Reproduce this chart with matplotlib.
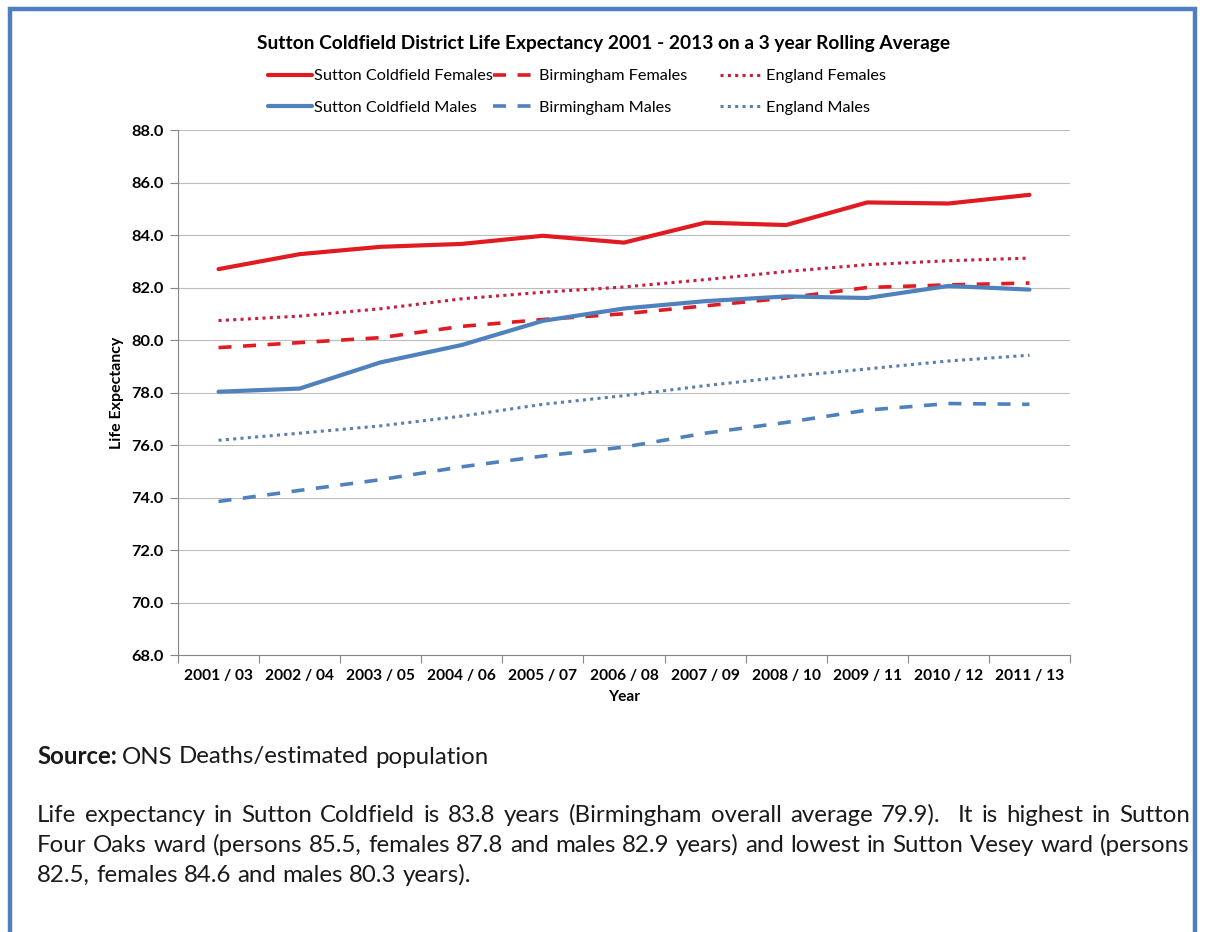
import matplotlib
matplotlib.use('Agg')
import matplotlib.pyplot as plt
from matplotlib.patches import Rectangle
from matplotlib.ticker import FixedLocator, MultipleLocator

W, H = 1206, 932
plt.rcParams['font.family'] = ['Lato', 'DejaVu Sans']

years = ['2001 / 03', '2002 / 04', '2003 / 05', '2004 / 06', '2005 / 07', '2006 / 08',
         '2007 / 09', '2008 / 10', '2009 / 11', '2010 / 12', '2011 / 13']

sc_females = [82.70, 83.27, 83.55, 83.66, 83.97, 83.71, 84.47, 84.38, 85.24, 85.20, 85.53]
bham_females = [79.71, 79.90, 80.09, 80.52, 80.78, 81.00, 81.30, 81.60, 82.00, 82.10, 82.17]
eng_females = [80.74, 80.91, 81.19, 81.57, 81.82, 82.02, 82.30, 82.61, 82.87, 83.02, 83.12]
sc_males = [78.03, 78.15, 79.15, 79.81, 80.73, 81.20, 81.48, 81.66, 81.60, 82.06, 81.92]
bham_males = [73.85, 74.27, 74.68, 75.17, 75.58, 75.92, 76.45, 76.86, 77.33, 77.58, 77.55]
eng_males = [76.18, 76.45, 76.73, 77.10, 77.55, 77.88, 78.26, 78.60, 78.90, 79.20, 79.42]

red = '#e01b22'
blue = '#4f81bd'

fig = plt.figure(figsize=(W / 100, H / 100), dpi=100)
ax = fig.add_axes((178 / W, 1 - 655 / H, 892 / W, 525 / H))

x = range(len(years))
l1, = ax.plot(x, sc_females, color=red, lw=3.0, solid_capstyle='round')
l2, = ax.plot(x, bham_females, color=red, lw=2.6, dashes=(3.6, 3.2))
l3, = ax.plot(x, eng_females, color='#c81e3c', lw=2.2, dashes=(1.0, 1.4))
l4, = ax.plot(x, sc_males, color=blue, lw=3.0, solid_capstyle='round')
l5, = ax.plot(x, bham_males, color=blue, lw=2.6, dashes=(3.6, 3.2))
l6, = ax.plot(x, eng_males, color='#5b7fac', lw=2.2, dashes=(1.0, 1.4))

ax.set_xlim(-0.5, len(years) - 0.5)
ax.set_ylim(68, 88)
ax.yaxis.set_major_locator(MultipleLocator(2))
ax.set_yticklabels(['%.1f' % v for v in ax.get_yticks()])
ax.set_xticks(list(x))
ax.set_xticklabels(years)
ax.xaxis.set_minor_locator(FixedLocator([i - 0.5 for i in range(len(years) + 1)]))
ax.tick_params(axis='x', which='major', length=0, pad=10)
ax.tick_params(axis='x', which='minor', length=6, color='#868686', width=0.8)
ax.tick_params(axis='y', length=6, color='#868686', width=0.8, pad=4.5)
for lab in ax.get_xticklabels():
    lab.set_fontweight('bold')
    lab.set_fontsize(11.2)
for lab in ax.get_yticklabels():
    lab.set_fontweight('bold')
    lab.set_fontsize(11.8)
ax.grid(axis='y', color='#bdbdbd', lw=0.8)
ax.set_axisbelow(True)
for s in ['top', 'right']:
    ax.spines[s].set_visible(False)
for s in ['left', 'bottom']:
    ax.spines[s].set_color('#868686')
    ax.spines[s].set_linewidth(0.8)

ax.set_xlabel('Year', fontweight='bold', fontsize=11.2, labelpad=5)
ax.set_ylabel('Life Expectancy', fontweight='bold', fontsize=11.5)
ax.yaxis.set_label_coords((124 - 178) / 892, 0.5)

fig.text(604 / W, 1 - 43 / H, 'Sutton Coldfield District Life Expectancy 2001 - 2013 on a 3 year Rolling Average',
         ha='center', va='center', fontweight='bold', fontsize=13.8)

# legend: three columns of two rows
cols = [((l1, 'Sutton Coldfield Females'), (l4, 'Sutton Coldfield Males'), 268),
        ((l2, 'Birmingham Females'), (l5, 'Birmingham Males'), 493),
        ((l3, 'England Females'), (l6, 'England Males'), 720)]
for a, b, xpos in cols:
    fig.legend([a[0], b[0]], [a[1], b[1]], loc='center left',
               bbox_to_anchor=(xpos / W, 1 - 92 / H), frameon=False,
               fontsize=11.7, handlelength=2.7, handletextpad=0.15,
               borderpad=0, borderaxespad=0, labelspacing=1.05)

# text under the chart
renderer = fig.canvas.get_renderer()


def put_words(words, x0, x1, y, justify, **kw):
    ts = [fig.text(0, 1 - y / H, w, va='center', ha='left', **kw) for w in words]
    widths = [t.get_window_extent(renderer).width for t in ts]
    if justify:
        gap = (x1 - x0 - sum(widths)) / (len(words) - 1)
    else:
        a = fig.text(0, 0, 'a a', **kw)
        b = fig.text(0, 0, 'aa', **kw)
        gap = a.get_window_extent(renderer).width - b.get_window_extent(renderer).width
        a.remove()
        b.remove()
    pos = x0
    for t, w in zip(ts, widths):
        t.set_x(pos / W)
        pos += w + gap
    return pos


body = dict(fontsize=17.3, color='#1a1a1a')
src = fig.text(37 / W, 1 - 757 / H, 'Source:', va='center', ha='left', fontweight='bold', **body)
sx = src.get_window_extent(renderer).x1
put_words('ONS Deaths/estimated population'.split(' '), sx + 5, None, 757, False, **body)

lines = [
    ('Life expectancy in Sutton Coldfield is 83.8 years (Birmingham overall average 79.9).  It is highest in Sutton', True),
    ('Four Oaks ward (persons 85.5, females 87.8 and males 82.9 years) and lowest in Sutton Vesey ward (persons', True),
    ('82.5, females 84.6 and males 80.3 years).', False),
]
for i, (line, just) in enumerate(lines):
    put_words(line.split(' '), 37, 1190, 815 + 30 * i, just, **body)

fig.add_artist(Rectangle((10 / W, -0.1), 1185 / W, 1.1 - 9 / H, transform=fig.transFigure,
                         fill=False, edgecolor='#4f7fc0', lw=3.2))

fig.savefig('out.png', dpi=100)
